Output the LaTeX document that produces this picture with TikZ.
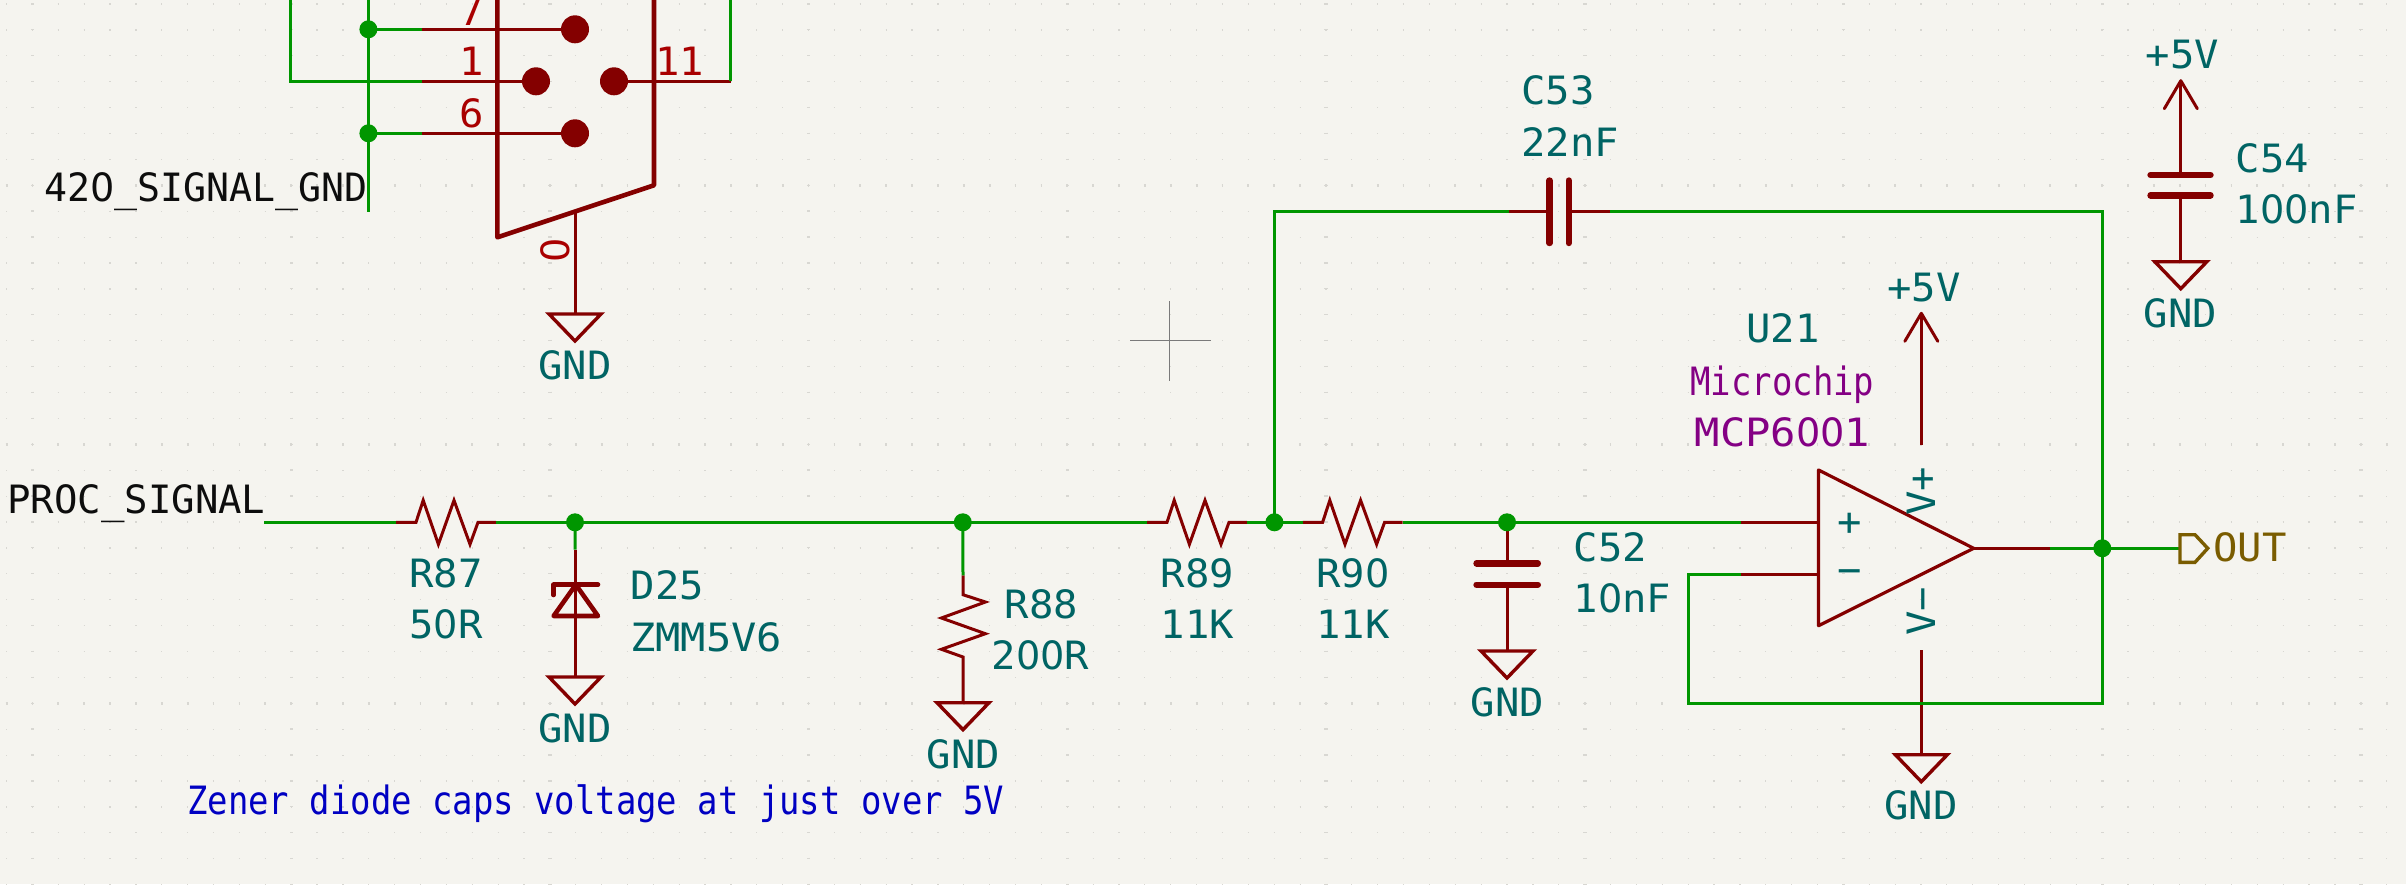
\documentclass[tikz,border=0pt]{standalone}
\usepackage{fontspec}
\setmainfont{DejaVu Sans Mono}
\newfontfamily\fA[FakeStretch=1.04]{DejaVu Sans Mono}
\newfontfamily\fB[FakeStretch=0.98]{DejaVu Sans Mono}
\newfontfamily\fC[FakeStretch=0.87]{DejaVu Sans Mono}
\newfontfamily\fD[FakeStretch=1.0]{DejaVu Sans Mono}
\newfontfamily\fE[FakeStretch=1.08]{DejaVu Sans Mono}
\newfontfamily\fZ[FakeStretch=0.98]{DejaVu Sans}
\newcommand{\zz}{{\fZ 0}}
\definecolor{bgc}{HTML}{F5F4EF}
\definecolor{kred}{HTML}{840000}
\definecolor{kgreen}{HTML}{009600}
\definecolor{kteal}{HTML}{006464}
\definecolor{kblue}{HTML}{0000C2}
\definecolor{kpurple}{HTML}{840084}
\definecolor{kolive}{HTML}{7A5C00}
\definecolor{kpin}{HTML}{A90000}
\definecolor{gridc}{HTML}{D8D7D2}
\tikzset{
  x=1pt,y=-1pt,
  wire/.style={draw=kgreen,line width=3pt},
  pinl/.style={draw=kred,line width=3pt},
  body/.style={draw=kred,line width=4.6pt,line join=round,line cap=round},
  opbody/.style={draw=kred,line width=3.2pt,line join=round},
  plate/.style={draw=kred,line width=6.4pt,line cap=round},
  junc/.style={circle,fill=kgreen,inner sep=0pt,minimum size=18pt},
  dotc/.style={circle,fill=kred,inner sep=0pt,minimum size=28pt},
  lab/.style={inner sep=0pt,font=\fontsize{39}{39}\selectfont\fA,text=kteal},
  net/.style={inner sep=0pt,font=\fontsize{39}{39}\selectfont\fB,text=black!95},
  pinnum/.style={inner sep=0pt,font=\fontsize{39}{39}\selectfont\fA,text=kpin},
  gndsym/.pic={\draw[draw=kred,line width=3.4pt,line join=miter] (-26,0)--(26,0)--(0,27)--cycle;},
  pwrsym/.pic={\draw[draw=kred,line width=3pt,line join=round,line cap=round] (-16.5,28)--(0,0)--(16.5,28);},
  hres/.pic={\draw[draw=kred,line width=3pt,line join=miter]
     (0,0)--(20,0)--(27.2,-22)--(42.4,22)--(58,-22)--(74,22)--(82,0)--(100,0);},
  vres/.pic={\draw[draw=kred,line width=3pt,line join=miter]
     (0,0)--(0,19.4)--(22.4,26.7)--(-21.6,42.7)--(22.4,58.4)--(-21.6,74)--(0,81.7)--(0,127.4);},
}
\begin{document}
\begin{tikzpicture}
\useasboundingbox (0,0) rectangle (2406,884);
\fill[bgc] (0,0) rectangle (2406,884);
% grid
\foreach \k in {-7,...,27}{
  \pgfmathsetmacro{\yy}{185.3+25.9*\k}
  \draw[gridc,line width=1.2pt,dash pattern=on 1.2pt off 24.67pt] (6,\yy)--(2406,\yy);
}
\foreach \i in {0,...,9}{
  \pgfmathsetmacro{\xx}{32.6+258.7*\i}
  \draw[gridc,line width=3.4pt,dash pattern=on 1.3pt off 24.6pt] (\xx,3.2)--(\xx,884);
}
\foreach \k in {0,1,2}{
  \pgfmathsetmacro{\yy}{185.3+259*\k}
  \draw[gridc,line width=3.6pt,dash pattern=on 1.8pt off 24.07pt] (5.7,\yy)--(2406,\yy);
}
% cursor
\coordinate (cl) at (1130,340.3); \coordinate (cr) at (1210.7,340.3);
\coordinate (ct) at (1169.3,301);  \coordinate (cb) at (1169.3,380.7);
\draw[black!52,line width=1.4pt] (cl)--(cr) (ct)--(cb);

% coordinates
\coordinate (y7a) at (368.4,29.3);  \coordinate (y7b) at (422,29.3);  \coordinate (y7c) at (575,29.3);
\coordinate (y6a) at (368.4,133.3); \coordinate (y6b) at (422,133.3); \coordinate (y6c) at (575,133.3);
\coordinate (p1a) at (290,81.3);    \coordinate (p1b) at (422,81.3);  \coordinate (p1c) at (536,81.3);
\coordinate (p1t) at (290,-3);
\coordinate (p11a) at (614,81.3);   \coordinate (p11b) at (730.6,81.3); \coordinate (p11t) at (730.6,-3);
\coordinate (sgt) at (368.4,-3);    \coordinate (sgb) at (368.4,212);
\coordinate (bl0) at (497.4,-6); \coordinate (bl1) at (497.4,237.3);
\coordinate (br1) at (654,185.3); \coordinate (br0) at (654,-6);
\coordinate (p0a) at (575,211); \coordinate (g0) at (575,314);

\coordinate (ps) at (264,522.3);
\coordinate (r87a) at (396,522.3); \coordinate (r87b) at (496,522.3);
\coordinate (j1) at (575,522.3);
\coordinate (d1) at (575,549.7); \coordinate (g1) at (575,677);
\coordinate (j2) at (962.8,522.3);
\coordinate (r88a) at (963,575.3); \coordinate (g2) at (963,702.7);
\coordinate (r89a) at (1147,522.3); \coordinate (r89b) at (1247,522.3);
\coordinate (j3) at (1274.4,522.3);
\coordinate (r90a) at (1302.6,522.3); \coordinate (r90b) at (1402.6,522.3);
\coordinate (j4) at (1507,522.3);
\coordinate (c52t) at (1507,563.3); \coordinate (c52b) at (1507,584.7); \coordinate (g3) at (1507,651);
\coordinate (inpw) at (1741.4,522.3); \coordinate (inpb) at (1818.5,522.3);
\coordinate (inmw) at (1741.4,574.3); \coordinate (inmb) at (1818.5,574.3);
\coordinate (fbl) at (1688.4,574.3); \coordinate (fbb) at (1688.4,703.7); \coordinate (fbr) at (2102.3,703.7);
\coordinate (oa) at (1973.7,548.3); \coordinate (ob) at (2049.8,548.3);
\coordinate (j5) at (2102.3,548.3);
\coordinate (ol) at (2181,548.3);
\coordinate (ftr) at (2102.3,211.3); \coordinate (ftl) at (1274.4,211.3);
\coordinate (c53a) at (1509,211.3); \coordinate (c53p) at (1549.5,211.3); \coordinate (c53q) at (1568.7,211.3); \coordinate (c53b) at (1609.8,211.3);
\coordinate (v5a) at (1921.3,313.3); \coordinate (v5b) at (1921.3,445);
\coordinate (vma) at (1921.3,650.3); \coordinate (g4) at (1921.3,754.7);
\coordinate (c54v) at (2180.8,80.7); \coordinate (c54t) at (2180.8,175); \coordinate (c54b) at (2180.8,195.3); \coordinate (g5) at (2180.8,261.7);

% symbols: connector body
\draw[body] (br0)--(br1)--(bl1)--(bl0);
\draw[pinl] (y7b)--(y7c) (y6b)--(y6c) (p1b)--(p1c) (p11a)--(p11b) (p0a)--(g0);
\node[dotc] (dot7) at (y7c) {}; \node[dotc] (dot6) at (y6c) {};
\node[dotc] (dot1) at (p1c) {}; \node[dotc] (dot11) at (p11a) {};
\pic at (g0) {gndsym};

% resistors
\pic at (r87a) {hres};
\pic at (r89a) {hres};
\pic at (r90a) {hres};
\pic at (r88a) {vres};
\pic at (g2) {gndsym};

% diode
\draw[pinl] (d1)--(g1);
\draw[body] (553.6,595)--(553.6,584.7)--(598,584.7);
\draw[body] (553.6,616)--(598,616)--(575.8,584.7)--cycle;
\pic at (g1) {gndsym};

% C52
\draw[pinl] (j4)--(c52t) (c52b)--(g3);
\draw[plate] (1476.5,563.3)--(1537.8,563.3);
\draw[plate] (1476.5,584.7)--(1537.8,584.7);
\pic at (g3) {gndsym};

% C53
\draw[pinl] (c53a)--(c53p) (c53q)--(c53b);
\draw[plate] (1549.5,180.5)--(1549.5,243);
\draw[plate] (1568.7,180.5)--(1568.7,243);

% C54
\draw[pinl] (c54v)--(c54t) (c54b)--(g5);
\draw[plate] (2150.5,175)--(2210.5,175);
\draw[plate] (2150.5,195.3)--(2210.5,195.3);
\pic at (c54v) {pwrsym};
\pic at (g5) {gndsym};

% op amp
\draw[opbody] (1818.5,470)--(oa)--(1818.5,625.7)--cycle;
\draw[pinl] (inpw)--(inpb) (inmw)--(inmb) (oa)--(ob) (v5a)--(v5b) (vma)--(g4);
\pic at (v5a) {pwrsym};
\pic at (g4) {gndsym};

% wires
\draw[wire] (p1t)--(p1a)--(p1b);
\draw[wire] (p11t)--(p11b);
\draw[wire] (sgt)--(sgb);
\draw[wire] (y7a)--(y7b) (y6a)--(y6b);
\draw[wire] (ps)--(r87a) (r87b)--(r89a) (r89b)--(r90a) (r90b)--(inpw);
\draw[wire] (j1)--(d1) (j2)--(r88a);
\draw[wire] (j3)--(ftl)--(c53a) (c53b)--(ftr)--(fbr)--(fbb)--(fbl)--(inmw);
\draw[wire] (ob)--(ol);

% junctions
\node[junc] (jy7) at (y7a) {}; \node[junc] (jy6) at (y6a) {};
\node[junc] (jj1) at (j1) {}; \node[junc] (jj2) at (j2) {}; \node[junc] (jj3) at (j3) {};
\node[junc] (jj4) at (j4) {}; \node[junc] (jj5) at (j5) {};

% hierarchical label
\draw[draw=kolive,line width=3.4pt,line join=miter] (2180,534.7)--(2195,534.7)--(2207.7,548.3)--(2195,562.3)--(2180,562.3)--cycle;
\node[lab,text=kolive,anchor=base west] (tOUT) at (2213,561.3) {OUT};

% pin numbers
\node[pinnum,anchor=base east] (t7) at (484,25) {7};
\node[pinnum,anchor=base east] (t1) at (484,75.3) {1};
\node[pinnum,anchor=base east] (t6) at (484,127) {6};
\node[pinnum,anchor=base west] (t11) at (655,75.3) {11};
\node[pinnum,anchor=center,rotate=90] (t0) at (555,250) {\zz};

% net labels
\node[net,anchor=base west] (tsg) at (44,201) {42\zz\_SIGNAL\_GND};
\node[net,anchor=base west,font=\fontsize{39}{39}\selectfont\fD] (tps) at (7,513) {PROC\_SIGNAL};

% designators
\node[lab,anchor=base] at (575,379) (tg0) {GND};
\node[lab,anchor=base] at (575,742) (tg1) {GND};
\node[lab,anchor=base] at (963.5,768) (tg2) {GND};
\node[lab,anchor=base] at (1507.5,716) (tg3) {GND};
\node[lab,anchor=base] at (1921,819.3) (tg4) {GND};
\node[lab,anchor=base] at (2180.5,327.3) (tg5) {GND};
\node[lab,anchor=base] at (446,587.3) (tR87) {R87};
\node[lab,anchor=base] at (446,638.7) (vR87) {5\zz R};
\node[lab,anchor=base west] at (630.5,599.7) (tD25) {D25};
\node[lab,anchor=base west,font=\fontsize{39}{39}\selectfont\fE] at (630,651) (vD25) {ZMM5V6};
\node[lab,anchor=base] at (1041.5,618) (tR88) {R88};
\node[lab,anchor=base] at (1040.5,669.3) (vR88) {2\zz\zz R};
\node[lab,anchor=base] at (1197.5,587.3) (tR89) {R89};
\node[lab,anchor=base] at (1197.5,638.7) (vR89) {11K};
\node[lab,anchor=base] at (1353,587.3) (tR90) {R9\zz};
\node[lab,anchor=base] at (1353,638.7) (vR90) {11K};
\node[lab,anchor=base west] at (1573.5,561.3) (tC52) {C52};
\node[lab,anchor=base west] at (1573.5,612) (vC52) {1\zz nF};
\node[lab,anchor=base west] at (1521,104) (tC53) {C53};
\node[lab,anchor=base west] at (1521,156.7) (vC53) {22nF};
\node[lab,anchor=base west] at (2235.5,172.3) (tC54) {C54};
\node[lab,anchor=base west] at (2235.5,223.3) (vC54) {1\zz\zz nF};
\node[lab,anchor=base] at (2182.5,68.3) (tp5a) {+5V};
\node[lab,anchor=base] at (1924,301.7) (tp5b) {+5V};
\node[lab,anchor=base] at (1783,342.3) (tU21) {U21};
\node[lab,anchor=base,text=kpurple,font=\fontsize{39}{39}\selectfont\fC] at (1782.4,395) (tMic) {Microchip};
\node[lab,anchor=base,text=kpurple,font=\fontsize{39}{39}\selectfont\fE] at (1782.5,446.7) (tMCP) {MCP6\zz\zz1};
\node[lab,anchor=center] at (1849.9,524.3) (tplus) {+};
\node[lab,anchor=center] at (1849.9,576.3) (tminus) {−};
\node[lab,anchor=base west,rotate=90] at (1935.5,516) (tvp) {V+};
\node[lab,anchor=base west,rotate=90] at (1935.5,636) (tvm) {V−};
\node[lab,anchor=base west,text=kblue,font=\fontsize{39}{39}\selectfont\fC] at (187,814.3) (tzen) {Zener diode caps voltage at just over 5V};
\end{tikzpicture}
\end{document}
